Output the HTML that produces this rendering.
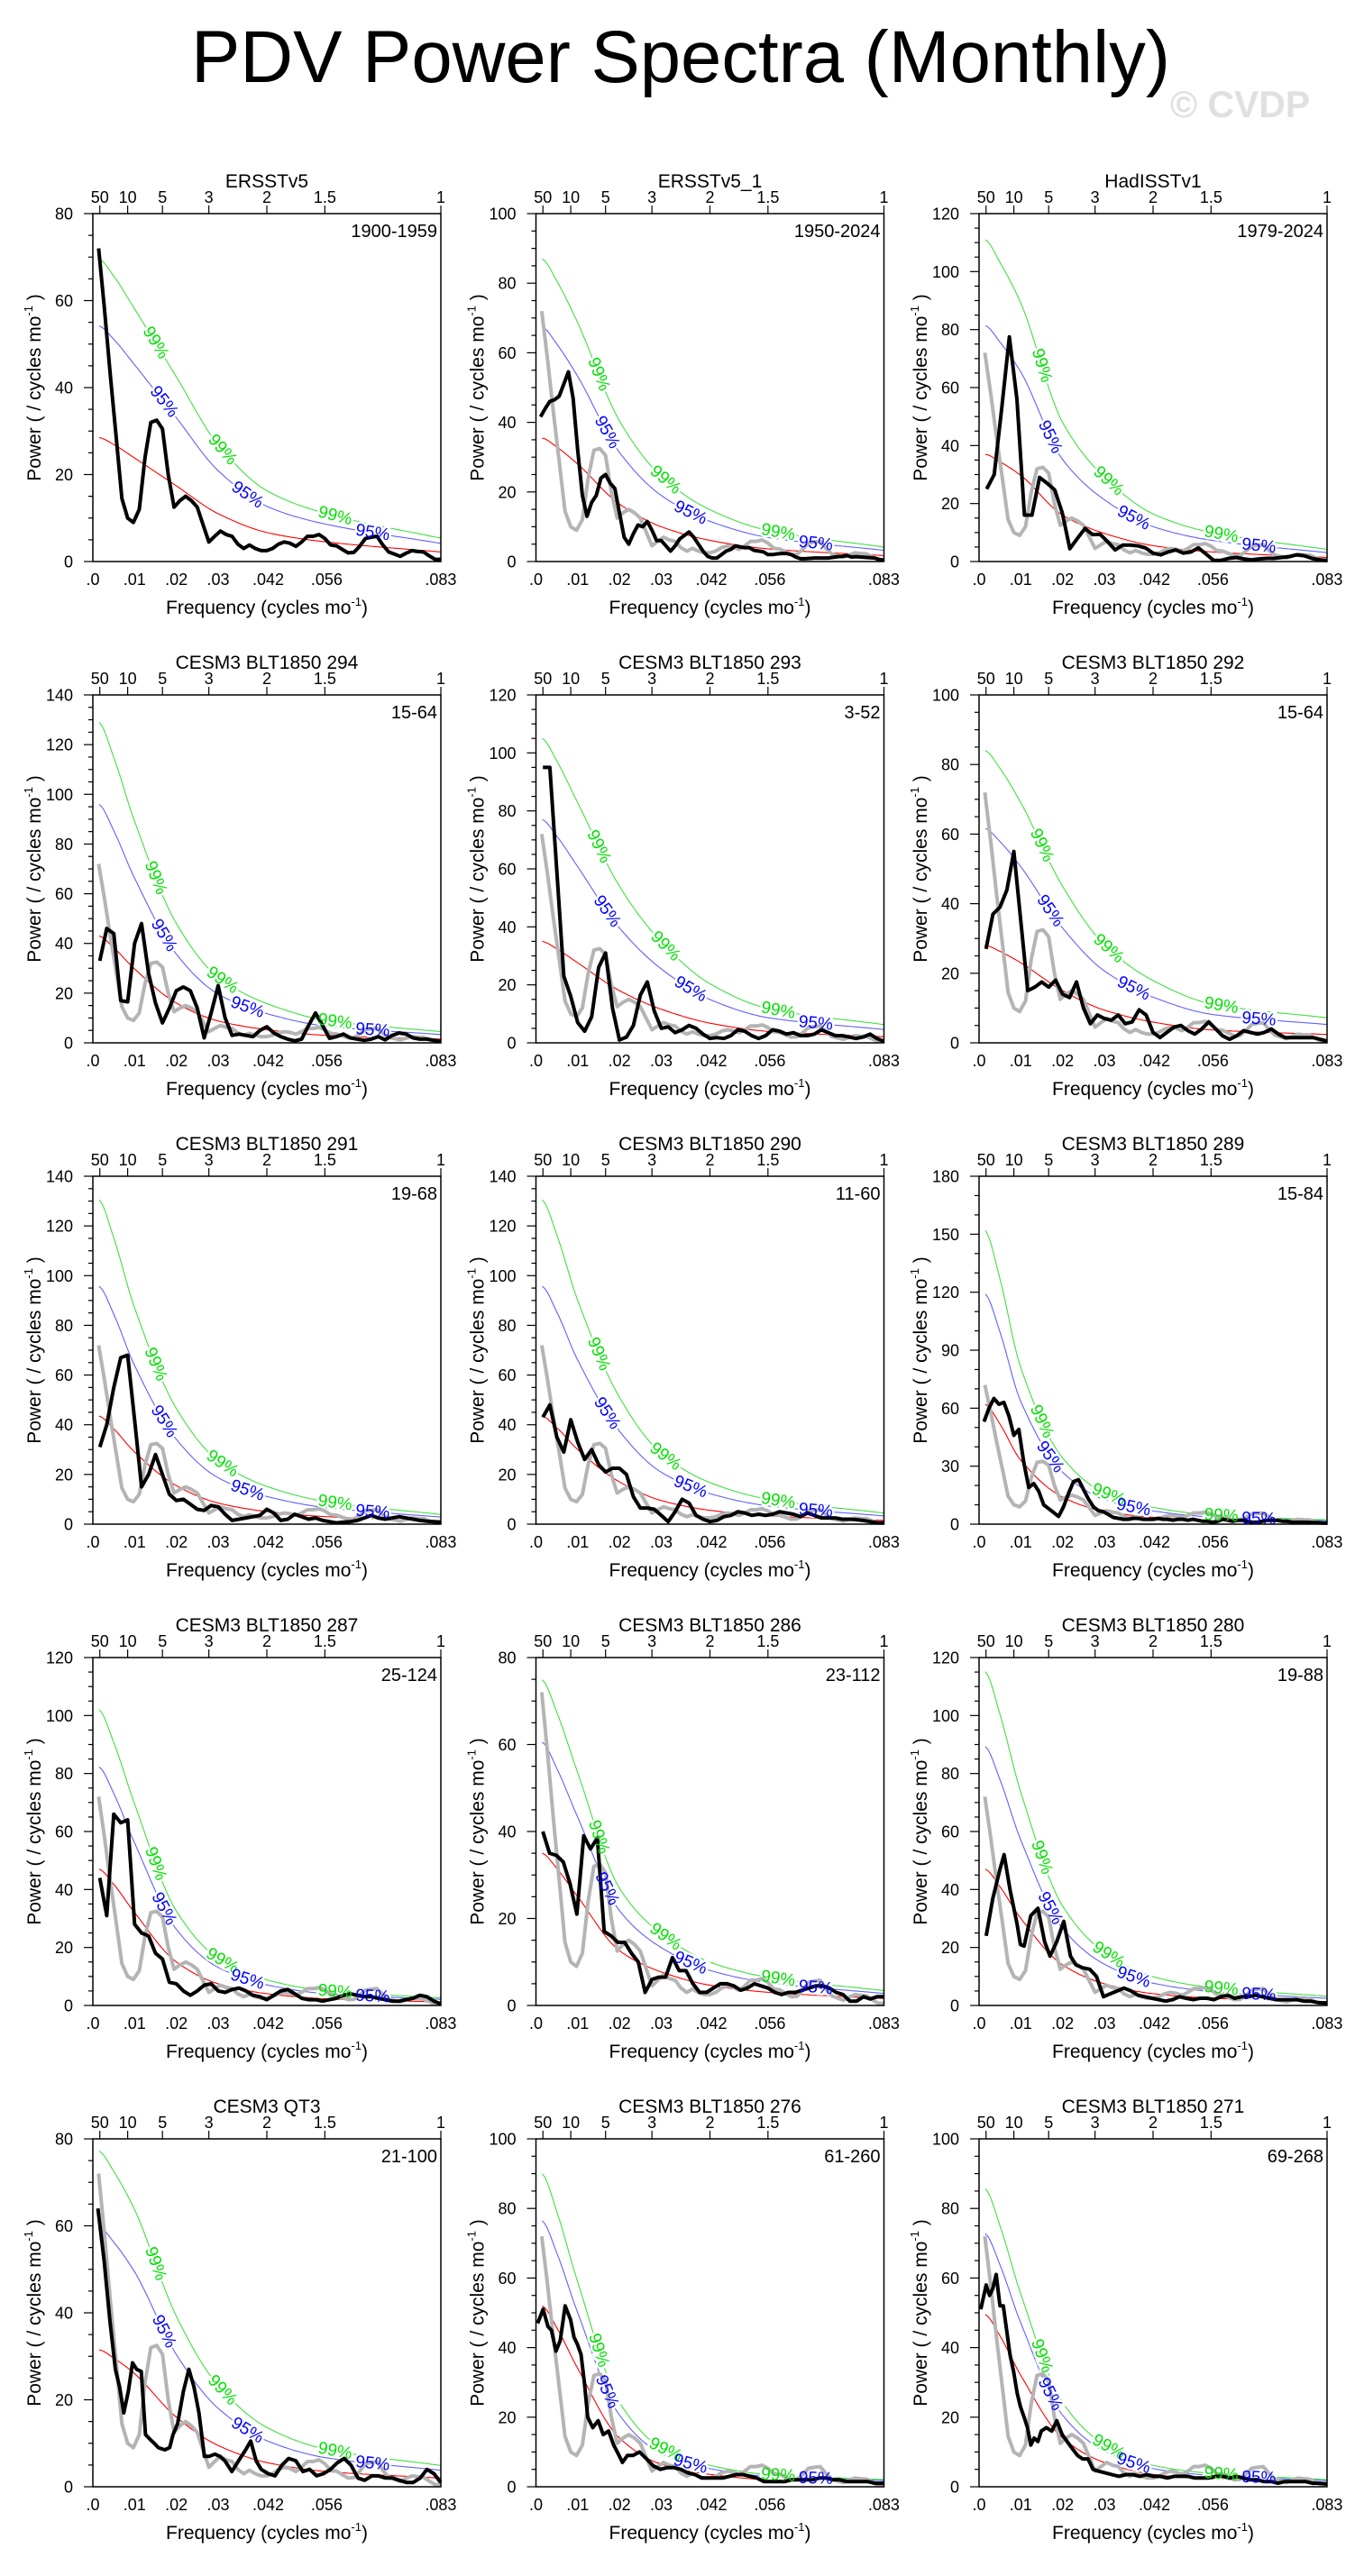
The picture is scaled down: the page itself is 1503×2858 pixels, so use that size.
<!DOCTYPE html>
<html><head><meta charset="utf-8"><style>
body{margin:0;background:#fff}
svg text{font-family:"Liberation Sans",Arial,sans-serif}
</style></head><body>
<svg id="fig" xmlns="http://www.w3.org/2000/svg" width="1503" height="2853" viewBox="0 0 1503 2853">
<rect x="0" y="0" width="1503" height="2853" fill="#fff"/>
<text x="755" y="91" font-size="82" text-anchor="middle" textLength="1086" lengthAdjust="spacingAndGlyphs">PDV Power Spectra (Monthly)</text>
<text x="1298" y="130" font-size="42" font-weight="bold" fill="#e0e0e0" textLength="155" lengthAdjust="spacingAndGlyphs">© CVDP</text>
</svg>
<script>
const titles = ["ERSSTv5","ERSSTv5_1","HadISSTv1","CESM3 BLT1850 294","CESM3 BLT1850 293","CESM3 BLT1850 292","CESM3 BLT1850 291","CESM3 BLT1850 290","CESM3 BLT1850 289","CESM3 BLT1850 287","CESM3 BLT1850 286","CESM3 BLT1850 280","CESM3 QT3","CESM3 BLT1850 276","CESM3 BLT1850 271"];
const periods = ["1900-1959","1950-2024","1979-2024","15-64","3-52","15-64","19-68","11-60","15-84","25-124","23-112","19-88","21-100","61-260","69-268"];
const yMax = [80,100,120,140,120,100,140,140,180,120,80,120,80,100,100];
const yStep = [20,20,20,20,20,20,20,20,30,20,20,20,20,20,20];
const yMinor = [5,5,5,5,5,5,5,5,10,5,5,5,5,5,5];
const xTickVals = [0,0.01,0.02,0.03,0.042,0.056,0.0833];
const xTickLabels = [".0",".01",".02",".03",".042",".056",".083"];
const topPeriods = [50,10,5,3,2,1.5,1];
const topLabels = ["50","10","5","3","2","1.5","1"];
const knotFreq = [0.0015,0.005,0.01,0.02,0.03,0.042,0.056,0.0833];
const red1=[28.5,26.9,23.8,17.4,11,6.6,4.5,2.2];
const red2=[35.5,32.9,28,16.5,10,6,3.6,1.7];
const red3=[37,34.4,29.7,16,9.7,5.4,3.3,1.4];
const red4=[43,38.3,29.7,16,8.8,5.2,3,1.5];
const red5=[35,32.4,27.6,18,11.6,6.7,3.9,2.1];
const red6=[28,26.3,23,15,9.4,5.9,3.7,2.4];
const red7=[43.5,38.4,29,15.5,8.5,5,3,1.3];
const red8=[43.5,38.8,30,17,9.5,5.5,3.3,1.5];
const red9=[62,51.8,33,14,6.6,3.5,1.9,0.9];
const red10=[47,41.8,32,15,7.5,4,2.3,1.2];
const red11=[35,31.5,25,12.6,7.7,4.6,3,1.6];
const red12=[47,41,30,14,7.5,4,2.5,1.3];
const red13=[31.5,29.6,26,16,9.5,5.5,3.5,2];
const red14=[52,45.7,34,14,6.5,3.5,2,1.2];
const red15=[49.5,43.4,32,14,7,3.5,2.2,1.2];
const ratio95 = [1.9,1.9,2.2,2.23,2.2,2.2,2.2,2.2,1.92,1.75,1.73,1.9,1.9,1.47,1.47];
const ratio99 = [2.44,2.45,3.0,3.0,3.0,3.0,3.0,3.0,2.45,2.17,2.14,2.45,2.45,1.73,1.73];
const lab99Freq = [0.015,0.031,0.058];
const lab95Freq = [0.017,0.037,0.067];
const pow1=[72,58,43,29,14.5,10,9,12,24,32,32.5,30.5,20,12.5,14,15,14,12.5,8.5,4.5,5.8,7,6.2,5.8,4,3,3.8,3,2.5,2.5,3,4,4.5,4.2,3.5,4.5,5.8,5.8,6.2,5.3,3.8,3.6,2.8,2,2.1,3.5,5.3,5.6,5.8,3.8,2.2,1.7,1.2,1.9,2.5,2.3,2.2,1.3,0.5,0.5];
const pow2=[41.6,44,46,46.5,47.5,51,54.5,47,32,19,13,17,19,24,25,22.5,21,14,7,5,8,10.5,10,11.5,9,6,6,4.5,3,4.5,6.5,7.5,8.5,7,5,3,1.5,1,1,2,3,3.5,4.5,4.2,4,4,3.2,3,2.8,2,2,2.2,2.3,2.3,2,1.3,0.8,0.8,0.9,1,1,1,1,1.2,1.4,1.5,1.7,1.3,1.4,1.3,1.2,1.1,1,0.6,0.4];
const pow3=[25,30,53,77.5,56,16,16,29,27,24.7,16.8,4.4,8,11.4,9.3,9.4,6.8,4,5.7,5.7,5.4,4.7,2.9,2.3,3.3,4,2.9,3.3,4.7,2.6,0.4,0.4,1.1,1.4,0.9,0.6,0.9,1.1,1.1,1.4,1.7,2.3,2,1.1,0.6,0.3];
const pow4=[33,46,44,17,16.5,40,48,28,16,8,14,21,22.5,21,14,2,12,23,10,3,3.5,3,2.5,5,6.5,4,2.5,1.5,0.8,1.5,7,12,7,1.8,2.5,3.5,2,1.5,1,1.5,2.5,1.2,3,4,3.5,2,1.5,1.5,1,0.5];
const pow5=[95,95,59,23,16,7,4,9,26,31,12,1,2,6,16.5,21,11,5,5.5,3.5,4.5,6,5,3,1.5,1.8,1.5,2.5,4.5,4,2.5,1.5,2.5,4.5,4,3,3.5,2.5,2.5,3,4.5,3.5,2.5,2.5,2,1.5,2,3,1.5,0.5];
const pow6=[27,37,39,44,55,35,15,16,17.5,16,18,14,13,17.5,10,5.5,8,7,6.5,8,5.5,6,9.5,8,3,1.5,3,4.5,5,3.5,2.5,4,6,4,2,1,2,3.5,3,2.5,3,4,2.5,1.5,1.5,1.5,1.5,1.5,1,0.5];
const pow7=[31,40,55,67,68,42,15,20,28,20,12,9.5,10,8,6,5.5,7.5,7,4,1.5,2,2.5,3,3.5,6,4.5,1.5,2,4,3,2,2.5,1.5,1,0.5,0.8,1,1.5,2.5,3.5,2.5,2,2.5,3,2.5,2,1.5,1.2,1,0.8];
const pow8=[43,48,35,29,42,33,26,30,24,21,22.5,22.5,20,11,6.5,6.5,6,3.5,1,5,10,8.5,3.5,2,1,1.5,3,3.5,5,4.5,3.5,4,3.5,4,5,4.5,4,3,4.5,3.5,2.5,2.5,2.5,2,2,1.8,1.5,1,0.5,0.5];
const pow9=[53,60,65,62,63,56,46,49,32,19,21,17,10,8,6,4,9,16,22,23,18,13,9,7,6.5,5,3.5,3,2.5,2.5,3,3,2.5,2.5,2.5,3,2.5,2.5,2,2.5,2.5,2,2.5,2,1.5,1.5,1,1.5,2.5,2,1.5,2,2,1.5,1,1,1.5,2,2,2,1.5,1.5,1,1,1,1,0.8,0.8,0.6,0.5];
const pow10=[44,31,66,63,64,28,25,24,18,16,8,7.5,5,3.5,5,7,7.5,5,4.5,5.5,6,5,3.5,3,2,3.5,5,5.5,4,2.5,2,2,1.5,2,2.5,3.5,4,3.5,3,3,2.5,2,1.5,1.5,2,2.5,3.5,3,1.5,0.5];
const pow11=[40,35,34.5,33,28,21,39,36,38.5,17,16,14.5,14.5,12,10,3,6,6.5,6.5,11,8,8,5,3,3,4,5,5,4.5,3.5,4,5,4.5,4,3,2.5,3,3,3.5,4,4.5,4.5,4,3,2.5,1,1,2,1.5,2,2];
const freq12=[.0017,.0033,.0050,.0060,.0074,.0091,.0099,.0108,.0124,.0141,.0157,.0170,.0186,.0203,.0219,.0232,.0248,.0265,.0281,.0298,.0314,.0331,.0347,.0364,.0381,.0397,.0414,.0430,.0447,.0463,.0480,.0496,.0513,.0529,.0546,.0562,.0579,.0596,.0612,.0629,.0645,.0662,.0678,.0695,.0711,.0728,.0744,.0761,.0778,.0794,.0811,.0833];
const pow12=[24,37,47,52,40,28,21,20.5,31,33.5,22,17,22,29,17,14,13,12.5,10,3,4,5,6,5,3.5,3,2.5,2,1.5,2,3,2.5,2,2.5,2.5,2,3,3.5,2.5,3,3,3.5,3,2.5,2,2,2,2,1.5,1.5,1,0.8];
const freq13=[.0012,.0027,.0041,.0054,.0064,.0074,.0085,.0095,.0105,.0116,.0126,.0136,.0147,.0157,.0172,.0184,.0192,.0203,.0217,.0230,.0242,.0254,.0267,.0279,.0292,.0304,.0316,.0333,.0349,.0366,.0378,.0391,.0403,.0420,.0436,.0453,.0469,.0486,.0503,.0519,.0536,.0552,.0569,.0585,.0602,.0618,.0635,.0651,.0668,.0684,.0701,.0718,.0734,.0751,.0767,.0784,.0800,.0817,.0833];
const pow13=[64,52,38,27,23,17,22,28.5,27,26.5,12,11,10,9,8.5,9,12,14.5,22,27,23,17,7,7,7.5,7,6,3.5,6,8.5,10.5,6,4,3,2.5,5,6.5,6,3.5,4,2.5,3,4,5.5,6.5,5,2,1.5,2.5,2.5,2,2,1.5,1,1,2,4,3,1];
const freq14=[.0004,.0017,.0029,.0037,.0048,.0058,.0070,.0083,.0091,.0099,.0108,.0116,.0124,.0136,.0149,.0161,.0174,.0186,.0199,.0207,.0219,.0232,.0248,.0265,.0281,.0298,.0314,.0331,.0347,.0364,.0381,.0397,.0414,.0430,.0447,.0463,.0480,.0496,.0513,.0529,.0546,.0562,.0579,.0596,.0612,.0629,.0645,.0662,.0678,.0695,.0711,.0728,.0744,.0761,.0778,.0794,.0811,.0833];
const pow14=[47,51,46,45,39,42,52,48,43,41,38,30,20,17,19,15,16,12,9,7,9,9,10,8,6,5,5.5,5.5,5,4,3.5,2.5,2.5,2.5,2.5,3,3.5,3.5,3,2.5,1.5,1.5,1.5,1.5,2,2,2,2,2.5,2.5,2,2,1.5,1.5,1.5,1.5,1,1];
const freq15=[.0004,.0017,.0025,.0033,.0041,.0050,.0058,.0066,.0074,.0083,.0091,.0099,.0108,.0116,.0124,.0132,.0141,.0149,.0161,.0174,.0186,.0199,.0211,.0223,.0236,.0248,.0261,.0273,.0285,.0302,.0318,.0335,.0352,.0368,.0385,.0401,.0418,.0434,.0451,.0467,.0484,.0500,.0517,.0534,.0550,.0567,.0583,.0600,.0616,.0633,.0649,.0666,.0682,.0699,.0716,.0732,.0749,.0765,.0782,.0798,.0815,.0833];
const pow15=[51,58,55,57,61,52,52,45,38,33,27,23,20,17,12,14,13,16,17,16,19,15,13,11,9,8,8,5,4.5,4,3.5,3,3.5,3.5,3,3.5,3,3,2.5,3,3,3,2.5,2.5,2.5,3,3,2.5,3,2.5,2,2,1.5,1.5,1,1.5,1.5,1.5,1.5,1,1,0.8];

const reds=[red1,red2,red3,red4,red5,red6,red7,red8,red9,red10,red11,red12,red13,red14,red15];
const pows=[pow1,pow2,pow3,pow4,pow5,pow6,pow7,pow8,pow9,pow10,pow11,pow12,pow13,pow14,pow15];
const freqs=[null,null,null,null,null,null,null,null,null,null,null,freq12,freq13,freq14,freq15];

const NS="http://www.w3.org/2000/svg";
const svg=document.getElementById('fig');
const FMAX=1/12, W=386, H=386;
function mk(tag,attrs,parent){const e=document.createElementNS(NS,tag);for(const k in attrs)e.setAttribute(k,attrs[k]);(parent||svg).appendChild(e);return e;}
function freqOf(i,p){return freqs[i]?freqs[i]:p.map((v,k)=>(k+1)/(12*p.length));}
function monotone(xs,ys){
  const n=xs.length,d=[],m=[];
  for(let i=0;i<n-1;i++)d.push((ys[i+1]-ys[i])/(xs[i+1]-xs[i]));
  m[0]=d[0]*0.3;m[n-1]=d[n-2];
  for(let i=1;i<n-1;i++)m[i]=(d[i-1]*d[i]<=0)?0:2/(1/d[i-1]+1/d[i]);
  return function(x){
    let i=0;while(i<n-2&&x>xs[i+1])i++;
    const h=xs[i+1]-xs[i],t=Math.max(0,Math.min(1,(x-xs[i])/h));
    const t2=t*t,t3=t2*t;
    return (2*t3-3*t2+1)*ys[i]+(t3-2*t2+t)*h*m[i]+(-2*t3+3*t2)*ys[i+1]+(t3-t2)*h*m[i+1];
  };
}
const colX=[103,594.5,1086];
for(let i=0;i<15;i++){
  const L=colX[i%3], T=237+534*Math.floor(i/3);
  const g=mk('g',{});
  
  
  const xs=f=>L+f/FMAX*W;
  const ys=v=>T+H-v/yMax[i]*H;
  const tt=mk('text',{x:L+W/2,y:T-29,'font-size':21,'text-anchor':'middle'},g);tt.textContent=titles[i];
  
  
  const pt=mk('text',{x:L+382,y:T+26,'font-size':20,'text-anchor':'end'},g);pt.textContent=periods[i];
  
  
  for(let v=0;v<=yMax[i]+1e-9;v+=yMinor[i]){
    const major=Math.abs(v/yStep[i]-Math.round(v/yStep[i]))<1e-6;
    const tk=mk('line',{x1:L-(major?10:5),x2:L,y1:ys(v),y2:ys(v),stroke:'#000','stroke-width':1.2},g);
    
    
    if(major){const tl=mk('text',{x:L-22,y:ys(v)+6.5,'font-size':18,'text-anchor':'end'},g);tl.textContent=String(v);
      
      }
  }
  xTickVals.forEach((f,k)=>{const tl=mk('text',{x:xs(f),y:T+412,'font-size':18,'text-anchor':'middle'},g);tl.textContent=xTickLabels[k];
    
    });
  topPeriods.forEach((p,k)=>{const x=xs(1/(12*p));
    const tk=mk('line',{x1:x,x2:x,y1:T-9,y2:T,stroke:'#000','stroke-width':1.2},g);
    
    
    const tl=mk('text',{x:x,y:T-12,'font-size':18,'text-anchor':'middle'},g);tl.textContent=topLabels[k];
    
    });
  const xt=mk('text',{x:L+193,y:T+444,'font-size':21,'text-anchor':'middle'},g);
  xt.innerHTML='Frequency (cycles mo<tspan font-size="13" dy="-9">-1</tspan><tspan dy="9">)</tspan>';
  
  
  const yt=mk('text',{x:0,y:0,'font-size':21,'text-anchor':'middle',transform:`translate(${L-58},${T+193}) rotate(-90)`},g);
  yt.innerHTML='Power ( / cycles mo<tspan font-size="13" dy="-9">-1</tspan><tspan dy="9"> )</tspan>';
  
  
  const red=monotone(knotFreq,reds[i]);
  const curves=[[1,'#ff0000','red-noise-curve'],[ratio95[i],'#6060ff','conf-95-curve'],[ratio99[i],'#40e040','conf-99-curve']];
  curves.forEach(c=>{let d='';for(let k=0;k<=140;k++){const f=0.0015+(FMAX-0.0015)*k/140;d+=(k?'L':'M')+xs(f).toFixed(1)+','+ys(red(f)*c[0]).toFixed(1);}
    const p=mk('path',{d:d,fill:'none',stroke:c[1],'stroke-width':1.1},g);
    
    });
  const labels=[];
  [[lab99Freq,ratio99[i],'#00e000','99%'],[lab95Freq,ratio95[i],'#0000ff','95%']].forEach(s=>{
    s[0].forEach(f=>{const x=xs(f),y=ys(red(f)*s[1]);const y2=ys(red(f+0.001)*s[1]);const x2=xs(f+0.001);
      const a=Math.atan2(y2-y,x2-x)*180/Math.PI;
      labels.push([x,y,a,s[2],s[3]]);});});
  labels.forEach(l=>{const h=mk('text',{x:0,y:0,'font-size':19,'text-anchor':'middle','dominant-baseline':'central',fill:'#fff',stroke:'#fff','stroke-width':5,transform:`translate(${l[0]},${l[1]}) rotate(${l[2]})`},g);h.textContent=l[4];
    
    });
  const drawSeries=(fr,pw,col,w,name)=>{let d='';pw.forEach((v,k)=>{d+=(k?'L':'M')+xs(fr[k]).toFixed(1)+','+ys(v).toFixed(1);});
    const p=mk('path',{d:d,fill:'none',stroke:col,'stroke-width':w,'stroke-linejoin':'round'},g);
    
    };
  if(i>0)drawSeries(freqOf(0,pows[0]),pows[0],'#b4b4b4',4,'reference-spectrum-line');
  drawSeries(freqOf(i,pows[i]),pows[i],'#000',4,'spectrum-line');
  labels.forEach(l=>{const t=mk('text',{x:0,y:0,'font-size':19,'text-anchor':'middle','dominant-baseline':'central',fill:l[3],transform:`translate(${l[0]},${l[1]}) rotate(${l[2]})`},g);t.textContent=l[4];
    
    });
  const fr=mk('rect',{x:L,y:T,width:W,height:H,fill:'none',stroke:'#000','stroke-width':1.5},g);
  
  
}
</script>
</body></html>
